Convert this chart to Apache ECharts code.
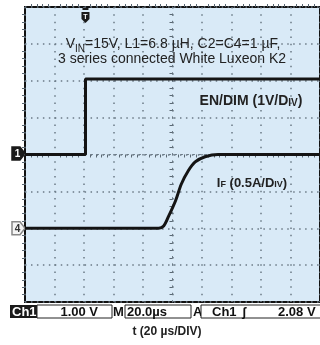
<!DOCTYPE html>
<html>
<head>
<meta charset="utf-8">
<script src="https://cdn.jsdelivr.net/npm/echarts@6/dist/echarts.min.js"></script>
<style>
  html, body { margin: 0; padding: 0; background: #fff; }
  #main { width: 320px; height: 345px; }
</style>
</head>
<body>
<div id="main"></div>
<script>
// time in us, relative to screen centre (20 us/div, 10 div)
const timeRange = [-100, 100]
const timeDiv = 20
const vertDivs = [-4, 4]

// EN/DIM, volts (1 V/div, ground at centre)
const enTime = [-100, -59, -59, -40, 0, 50, 100]
const enVolts = [0, 0, 2.05, 2.05, 2.05, 2.05, 2.05]
const enScale = 1
const enGround = 0

// I_F, amps (0.5 A/div, ground 2 div below centre)
const ifTime = [-100, -16, -9.4, -6, -2.7, 2, 6, 10.7, 15.4, 22.1, 30.9, 60, 100]
const ifAmps = [0, 0, 0, 0.03, 0.16, 0.37, 0.6, 0.78, 0.9, 0.97, 1.0, 1.0, 1.0]
const ifScale = 0.5
const ifGround = -2

const trigTime = -59

const statusTexts = ['Ch1', '1.00 V', 'M', '20.0\u00b5s', 'A', 'Ch1', '\u0283', '2.08 V']

var myChart = echarts.init(document.getElementById('main'));

const toDiv = (t, v, scale, gnd) => t.map((x, i) => [x, v[i] / scale + gnd])

const dotColor = '#6b7a86'
const fontMain = "'Liberation Sans Narrow', 'Liberation Sans', sans-serif"

var option = {
  animation: false,
  grid: {
    left: 25, top: 7, right: -3, bottom: 43,
    show: true, backgroundColor: '#d9eaf7', borderColor: '#111', borderWidth: 2
  },
  xAxis: [
    {
      type: 'value', min: timeRange[0], max: timeRange[1], interval: timeDiv,
      axisLine: { onZero: true, lineStyle: { color: dotColor, width: 1, type: [1.5, 4.5] } },
      axisTick: { show: false },
      minorTick: { show: true, splitNumber: 5, length: 3, lineStyle: { color: '#5a6873' } },
      axisLabel: { show: false },
      splitLine: { show: true, lineStyle: { color: dotColor, width: 1.5, type: [1.5, 5.85] } }
    },
    {
      type: 'value', min: timeRange[0], max: timeRange[1], interval: timeDiv, position: 'top',
      axisLine: { onZero: false, show: false },
      axisTick: { show: false },
      minorTick: { show: true, splitNumber: 5, length: 3, lineStyle: { color: '#5a6873' } },
      axisLabel: { show: false },
      splitLine: { show: false }
    }
  ],
  yAxis: [
    {
      type: 'value', min: vertDivs[0], max: vertDivs[1], interval: 1,
      axisLine: { onZero: true, lineStyle: { color: dotColor, width: 1, type: [1.5, 5.85] } },
      axisTick: { show: false },
      minorTick: { show: true, splitNumber: 5, length: 3, lineStyle: { color: '#5a6873' } },
      axisLabel: { show: false },
      splitLine: { show: true, lineStyle: { color: dotColor, width: 1.5, type: [1.5, 4.46] } }
    },
    {
      type: 'value', min: vertDivs[0], max: vertDivs[1], interval: 1, position: 'left',
      axisLine: { onZero: false, show: false },
      axisTick: { show: false },
      minorTick: { show: true, splitNumber: 5, length: 3, lineStyle: { color: '#5a6873' } },
      axisLabel: { show: false },
      splitLine: { show: false }
    }
  ],
  series: [
    {
      name: 'EN/DIM', type: 'line', showSymbol: false,
      lineStyle: { color: '#141414', width: 3 },
      data: toDiv(enTime, enVolts, enScale, enGround)
    },
    {
      name: 'IF', type: 'line', showSymbol: false, smooth: 0.3,
      lineStyle: { color: '#141414', width: 3 },
      data: toDiv(ifTime, ifAmps, ifScale, ifGround)
    }
  ]
};

myChart.setOption(option);

// markers and annotation text
const p1 = myChart.convertToPixel({ gridIndex: 0 }, [timeRange[0], enGround])
const p4 = myChart.convertToPixel({ gridIndex: 0 }, [timeRange[0], ifGround])
const pt = myChart.convertToPixel({ gridIndex: 0 }, [trigTime, vertDivs[1]])

const chMarker = (y, label, fill, stroke, txt) => ({
  type: 'group', children: [
    { type: 'polygon', shape: { points: [[12, y - 6.5], [20, y - 6.5], [25, y], [20, y + 6.5], [12, y + 6.5]] },
      style: { fill: fill, stroke: stroke, lineWidth: 1.5 } },
    { type: 'text', x: 17.5, y: y + 0.5, style: { text: label, fill: txt, font: 'bold 10px ' + fontMain, align: 'center', verticalAlign: 'middle' } }
  ]
})

const status = { font: 'bold 13px ' + fontMain, fill: '#111', verticalAlign: 'middle' }

myChart.setOption({
  graphic: [
    chMarker(p1[1] - 1, '1', '#1a1a1a', '#1a1a1a', '#fff'),
    chMarker(p4[1], '4', '#f4f4f4', '#888', '#333'),
    { type: 'group', children: [
      { type: 'polygon', shape: { points: [[pt[0] - 4, 12], [pt[0] + 4, 12], [pt[0] + 4, 19], [pt[0], 23], [pt[0] - 4, 19]] },
        style: { fill: '#1a1a1a' } },
      { type: 'rect', shape: { x: pt[0] - 3, y: 8, width: 6, height: 2 }, style: { fill: '#1a1a1a' } },
      { type: 'text', x: pt[0], y: 17, style: { text: 'T', fill: '#fff', font: 'bold 7px sans-serif', align: 'center', verticalAlign: 'middle' } }
    ] },
    { type: 'text', x: 173, y: 43, style: {
      text: '{a|V}{s|IN}{a|=15V, L1=6.8 \u00b5H, C2=C4=1 \u00b5F,}', align: 'center', verticalAlign: 'middle',
      rich: { a: { fontSize: 14, fontFamily: fontMain, fill: '#222', lineHeight: 16, verticalAlign: 'bottom' },
              s: { fontSize: 10, fontFamily: fontMain, fill: '#222', lineHeight: 16, verticalAlign: 'bottom', padding: [0, 0, -3, 0] } } } },
    { type: 'text', x: 172, y: 59, style: { text: '3 series connected White Luxeon K2', align: 'center', verticalAlign: 'middle', font: '14px ' + fontMain, fill: '#222' } },
    { type: 'text', x: 251, y: 100, style: {
      text: '{a|EN/DIM (1V/D}{s|IV}{a|)}', align: 'center', verticalAlign: 'middle',
      rich: { a: { fontSize: 14, fontWeight: 'bold', fontFamily: fontMain, fill: '#222', lineHeight: 16, verticalAlign: 'bottom' },
              s: { fontSize: 10, fontWeight: 'bold', fontFamily: fontMain, fill: '#222', lineHeight: 16, verticalAlign: 'bottom' } } } },
    { type: 'text', x: 252, y: 182, style: {
      text: '{a|I}{s|F}{a| (0.5A/D}{s|IV}{a|)}', align: 'center', verticalAlign: 'middle',
      rich: { a: { fontSize: 13, fontWeight: 'bold', fontFamily: fontMain, fill: '#222', lineHeight: 15, verticalAlign: 'bottom' },
              s: { fontSize: 9, fontWeight: 'bold', fontFamily: fontMain, fill: '#222', lineHeight: 15, verticalAlign: 'bottom' } } } },
    // status bar
    { type: 'rect', shape: { x: 10, y: 305, width: 27, height: 13 }, style: { fill: '#1a1a1a' } },
    { type: 'text', x: 12, y: 312, style: Object.assign({}, status, { text: statusTexts[0], fill: '#fff' }) },
    { type: 'rect', shape: { x: 37, y: 305, width: 75, height: 13 }, style: { fill: '#fff', stroke: '#222', lineWidth: 1 } },
    { type: 'text', x: 98, y: 312, style: Object.assign({}, status, { text: statusTexts[1], align: 'right' }) },
    { type: 'text', x: 113, y: 312, style: Object.assign({}, status, { text: statusTexts[2] }) },
    { type: 'rect', shape: { x: 125, y: 305, width: 66, height: 13 }, style: { fill: '#fff', stroke: '#222', lineWidth: 1 } },
    { type: 'text', x: 127, y: 312, style: Object.assign({}, status, { text: statusTexts[3] }) },
    { type: 'text', x: 193, y: 312, style: Object.assign({}, status, { text: statusTexts[4] }) },
    { type: 'rect', shape: { x: 201, y: 305, width: 125, height: 13 }, style: { fill: '#fff', stroke: '#222', lineWidth: 1 } },
    { type: 'text', x: 212, y: 312, style: Object.assign({}, status, { text: statusTexts[5] }) },
    { type: 'text', x: 242, y: 312, style: Object.assign({}, status, { text: statusTexts[6] }) },
    { type: 'text', x: 278, y: 312, style: Object.assign({}, status, { text: statusTexts[7] }) },
    { type: 'text', x: 167, y: 332, style: { text: 't (20 \u00b5s/DIV)', align: 'center', verticalAlign: 'middle', font: 'bold 12px ' + fontMain, fill: '#222' } }
  ]
});
</script>
</body>
</html>
